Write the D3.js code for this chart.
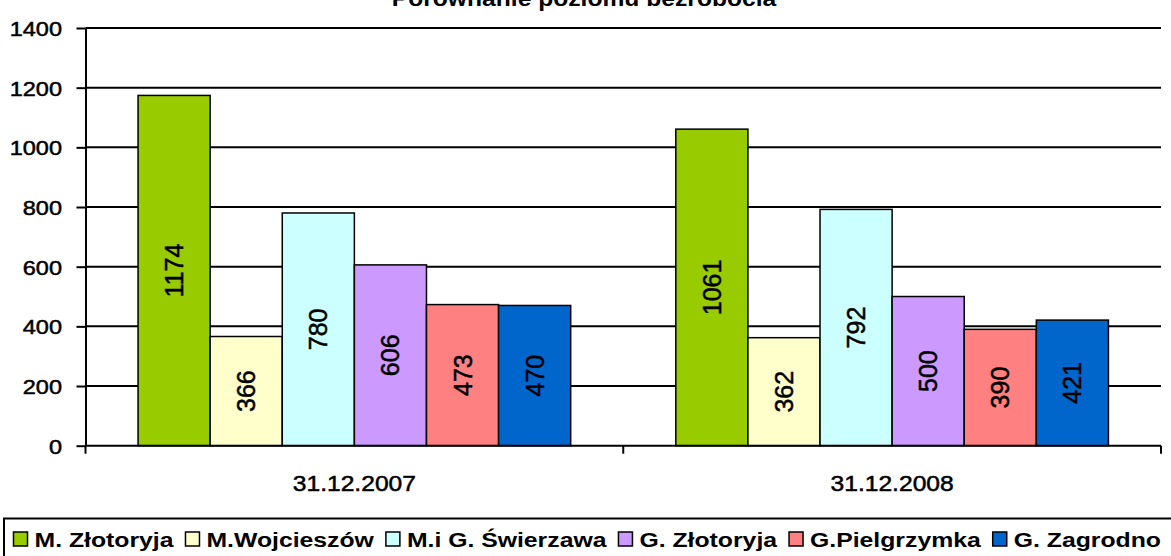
<!DOCTYPE html>
<html lang="pl">
<head>
  <meta charset="UTF-8">
  <title>Porównanie poziomu bezrobocia</title>
  <script src="https://d3js.org/d3.v7.min.js"></script>
  <style>
    body { margin: 0; padding: 0; background: #fff; }
    svg { display: block; font-family: 'Liberation Sans', Arial, sans-serif; }
    .grid line { stroke: #000; stroke-width: 2; }
    .y-axis path, .y-axis line, .x-axis line { stroke: #000; stroke-width: 2; }
    .bar { stroke: #000; stroke-width: 1.5; }
    .heavy { stroke: #000; stroke-width: 0.5; }
  </style>
</head>
<body>
  <div id="chart"></div>

  <script>
    const categories = ["31.12.2007", "31.12.2008"];
    const series = ["M. Złotoryja", "M.Wojcieszów", "M.i G. Świerzawa", "G. Złotoryja", "G.Pielgrzymka", "G. Zagrodno"];
    const values2007 = [1174, 366, 780, 606, 473, 470];
    const values2008 = [1061, 362, 792, 500, 390, 421];
    const colors = ["#99cc00", "#ffffcc", "#ccffff", "#cc99ff", "#ff8080", "#0066cc"];
    const yTicks = [0, 200, 400, 600, 800, 1000, 1200, 1400];
    const title = "Porównanie poziomu bezrobocia";

    const W = 1171, H = 556;
    const stretch = 1.12; // text in the picture is a bit wider than normal

    const rows = categories.map((c, i) => ({
      cat: c,
      vals: series.map((s, j) => ({ s, v: [values2007, values2008][i][j] }))
    }));

    const svg = d3.select("#chart").append("svg")
      .attr("width", W).attr("height", H);

    svg.append("rect").attr("width", W).attr("height", H).attr("fill", "#fff");

    const y = d3.scaleLinear().domain([0, 1400]).range([445.7, 28]);
    const x0 = d3.scaleBand().domain(categories).range([85.5, 1161]).padding(0);
    const x1 = d3.scaleBand().domain(series).range([0, x0.bandwidth()])
      .paddingInner(0).paddingOuter(0.729);
    const color = d3.scaleOrdinal().domain(series).range(colors);

    // title (mostly cut off at the top, as in the source)
    svg.append("text")
      .attr("transform", `translate(584,6) scale(${stretch},1)`)
      .attr("text-anchor", "middle")
      .attr("font-size", 22)
      .attr("font-weight", "bold")
      .text(title);

    // gridlines
    svg.append("g").attr("class", "grid")
      .selectAll("line")
      .data(yTicks.filter(d => d > 0))
      .join("line")
      .attr("x1", x0.range()[0]).attr("x2", x0.range()[1])
      .attr("y1", d => y(d)).attr("y2", d => y(d));

    // bars
    const groups = svg.append("g").selectAll("g")
      .data(rows)
      .join("g")
      .attr("transform", d => `translate(${x0(d.cat)},0)`);

    groups.selectAll("rect")
      .data(d => d.vals)
      .join("rect")
      .attr("class", "bar")
      .attr("x", d => x1(d.s))
      .attr("y", d => y(d.v))
      .attr("width", x1.bandwidth())
      .attr("height", d => y(0) - y(d.v))
      .attr("fill", d => color(d.s));

    groups.selectAll("text")
      .data(d => d.vals)
      .join("text")
      .attr("class", "heavy")
      .attr("transform", d => `translate(${x1(d.s) + x1.bandwidth() / 2},${(y(d.v) + y(0)) / 2}) rotate(-90)`)
      .attr("text-anchor", "middle")
      .attr("dy", "0.36em")
      .attr("font-size", 25)
      .attr("fill", "#000")
      .text(d => d.v);

    // y axis
    const yAxis = svg.append("g").attr("class", "y-axis")
      .attr("transform", `translate(${x0.range()[0]},0)`)
      .call(d3.axisLeft(y).tickValues(yTicks).tickFormat(d3.format("d"))
        .tickSize(9).tickPadding(12).tickSizeOuter(0));
    yAxis.selectAll("text")
      .attr("class", "heavy")
      .attr("font-size", 21)
      .attr("font-family", "'Liberation Sans', Arial, sans-serif")
      .attr("fill", "#000")
      .attr("dy", "0.36em")
      .attr("transform", `scale(${stretch},1)`);

    // x axis
    const xAxis = svg.append("g").attr("class", "x-axis")
      .attr("transform", `translate(0,${y(0)})`);
    xAxis.append("line")
      .attr("x1", x0.range()[0]).attr("x2", x0.range()[1]);
    xAxis.selectAll(".sep")
      .data(categories.map(c => x0(c)).concat([x0.range()[1]]))
      .join("line")
      .attr("class", "sep")
      .attr("x1", d => d).attr("x2", d => d)
      .attr("y1", 0).attr("y2", 8);
    xAxis.selectAll(".lab")
      .data(categories)
      .join("text")
      .attr("class", "lab heavy")
      .attr("transform", d => `translate(${x0(d) + x0.bandwidth() / 2},45.3) scale(${stretch},1)`)
      .attr("text-anchor", "middle")
      .attr("font-size", 22)
      .attr("fill", "#000")
      .text(d => d);

    // legend
    const legend = svg.append("g");
    legend.append("rect")
      .attr("x", 4).attr("y", 518.5)
      .attr("width", 1200).attr("height", 60)
      .attr("fill", "#fff").attr("stroke", "#000").attr("stroke-width", 2);

    const legStretch = 1.18;
    let lx = 13.5;
    series.forEach(s => {
      legend.append("rect")
        .attr("x", lx).attr("y", 532)
        .attr("width", 14).attr("height", 14)
        .attr("fill", color(s)).attr("stroke", "#000").attr("stroke-width", 1.5);
      const t = legend.append("text")
        .attr("transform", `translate(${lx + 21},546.5) scale(${legStretch},1)`)
        .attr("font-size", 21)
        .attr("font-weight", "bold")
        .attr("fill", "#000")
        .text(s);
      lx += 21 + t.node().getComputedTextLength() * legStretch + 12;
    });
  </script>
</body>
</html>
